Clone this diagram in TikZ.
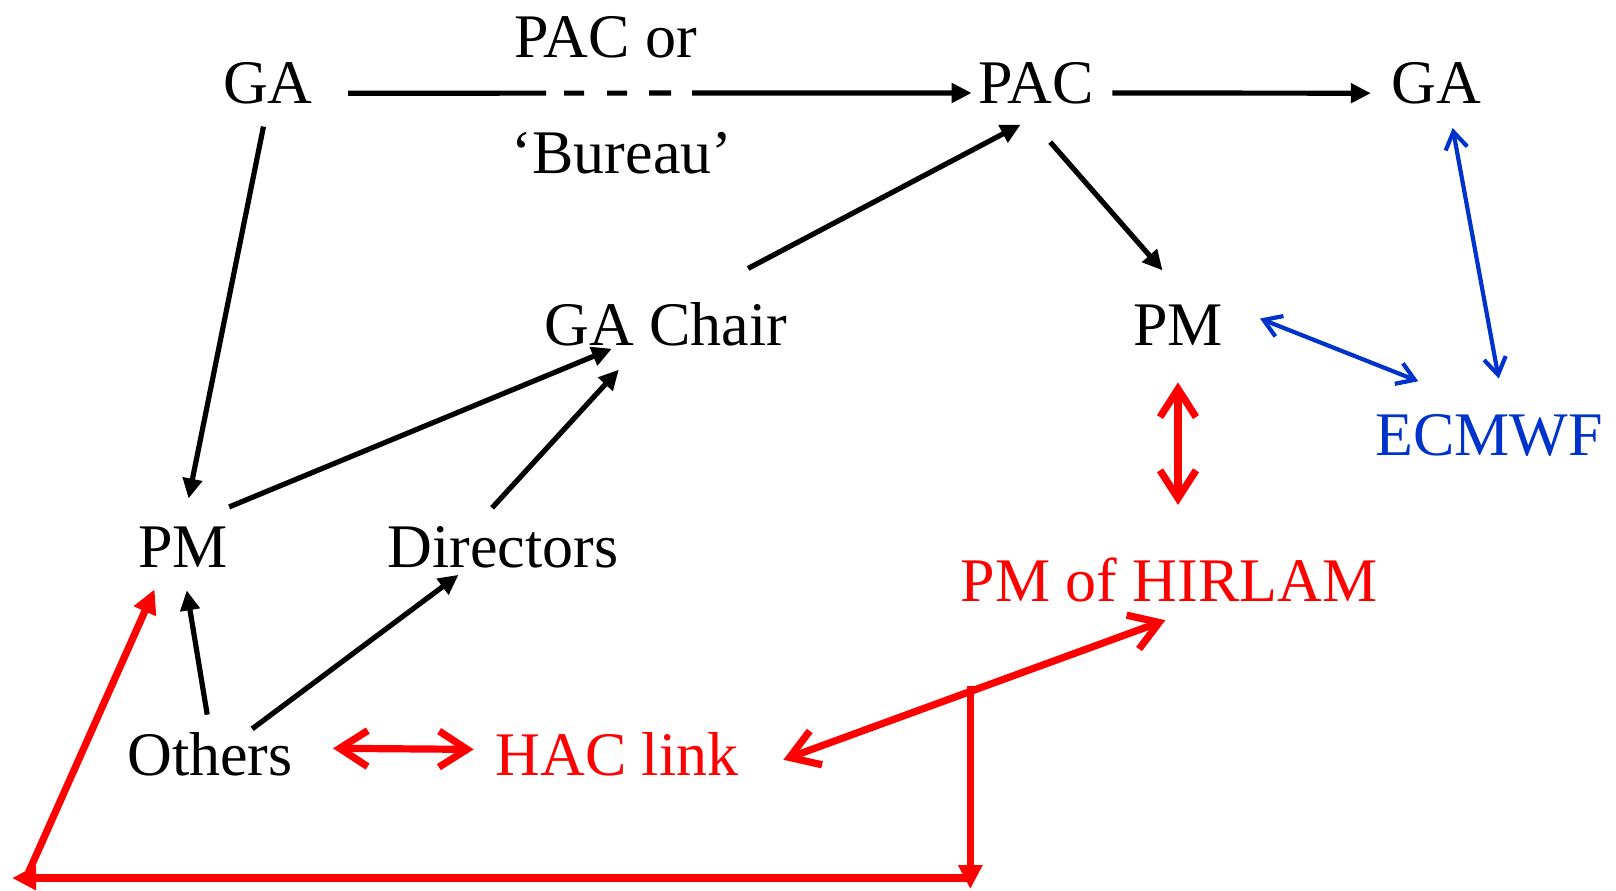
\documentclass[tikz,border=0pt]{standalone}
\usepackage{fontspec}
\setmainfont{Liberation Serif}
\usepackage{xcolor}
\usetikzlibrary{arrows.meta,calc}
\definecolor{hblue}{RGB}{0,51,204}

\tikzset{
    lbl/.style={anchor=base,inner sep=0pt,font=\fontsize{31}{37}\selectfont},
    blk/.style={line width=2.6pt,-{Triangle[length=10pt,width=9.5pt]}},
    redone/.style={red,line width=3.6pt,-{Triangle[length=12pt,width=11.5pt]}},
    redtwo/.style={red,line width=3.6pt,{Straight Barb[length=14pt,width=18pt]}-{Straight Barb[length=14pt,width=18pt]}},
    bluetwo/.style={hblue,line width=2.1pt,{Straight Barb[length=8.5pt,width=11pt]}-{Straight Barb[length=8.5pt,width=11pt]}},
}

\begin{document}
\begin{tikzpicture}[x=0.5pt,y=-0.5pt]
    \useasboundingbox (0,0) rectangle (1616,890);
    % top row
    \node[lbl] (GA1) at (268,103) {GA};
    \node[lbl] (PACor) at (606,57) {PAC or};
    \node[lbl] (Bureau) at (622,173) {‘Bureau’};
    \node[lbl] (PAC) at (1036,103) {PAC};
    \node[lbl] (GA2) at (1436,103) {GA};
    % middle
    \node[lbl] (Chair) at (666,345) {GA Chair};
    \node[lbl] (PMR) at (1178,345) {PM};
    \node[lbl,text=hblue] (ECMWF) at (1489,455) {ECMWF};
    \node[lbl] (PML) at (183,567) {PM};
    \node[lbl] (Dir) at (503,567) {Directors};
    \node[lbl,text=red] (HIRLAM) at (1169,601) {PM of HIRLAM};
    % bottom
    \node[lbl] (Others) at (210,775) {Others};
    \node[lbl,text=red] (HAC) at (617,775) {HAC link};

    % black arrows
    \draw[blk,dash pattern=on 99pt off 9pt on 10pt off 11.5pt on 10pt off 11pt on 11pt off 10.5pt on 300pt,
          shorten <=17.5pt,shorten >=3.25pt] (GA1.-13) -- (PAC.190);
    \draw[blk,shorten <=9.25pt,shorten >=10pt] (PAC.-10) -- (GA2.193);
    \draw[blk,shorten <=11.5pt,shorten >=14pt] (GA1.south) -- (PML.north);
    \draw[blk,shorten <=25pt,shorten >=3.5pt] (PML.north) -- (Chair.205);
    \draw[blk,shorten <=12pt,shorten >=16pt] (Dir.142) -- (Chair.221);
    \draw[blk,shorten <=35.5pt,shorten >=22pt] (Chair.49) -- (PAC.-42);
    \draw[blk,shorten <=25.3pt,shorten >=22.3pt] (PAC.228) -- (PMR.56);
    \draw[blk,shorten <=8.6pt,shorten >=11.6pt] (Others.north) -- (PML.south);
    \draw[blk,shorten <=2.3pt,shorten >=5.7pt] (Others.30) -- (Dir.211);

    % blue links
    \draw[bluetwo,shorten <=19.8pt,shorten >=43.9pt] (PMR.north east) -- (ECMWF.63);
    \draw[bluetwo,shorten <=12.2pt,shorten >=17.8pt] (GA2.-60) -- (ECMWF.53);

    % red links
    \draw[redtwo,shorten <=18.5pt,shorten >=26pt] (PMR.south) -- (PMR.south |- HIRLAM.north);
    \draw[redtwo,shorten <=20pt,shorten >=10.75pt] (Others.4) -- (HAC.178);
    \draw[redtwo,shorten <=23.7pt,shorten >=26.5pt] (HAC.south east) -- coordinate[pos=0.486] (J) (HIRLAM.-26);
    \coordinate (BR) at (J |- 0,878);
    \coordinate (BL) at (26,878);
    \draw[redone,shorten <=-2.5pt,shorten >=-5.5pt] (J) -- (BR);
    \draw[redone,shorten >=-7pt] (BR) -- (BL);
    \draw[redone,shorten >=12pt] (BL) -- (PML.228);
\end{tikzpicture}
\end{document}
